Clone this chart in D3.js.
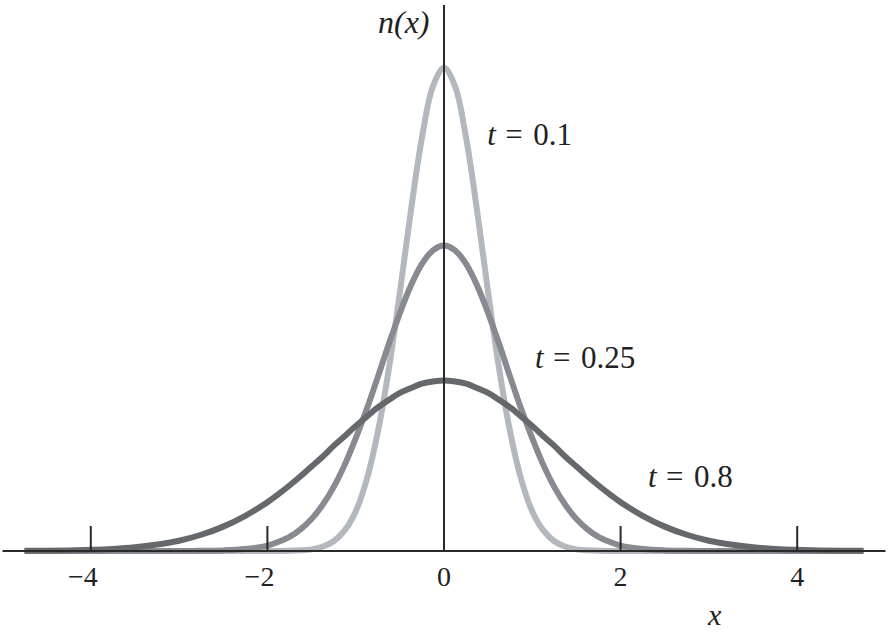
<!DOCTYPE html>
<html>
<head>
<meta charset="utf-8">
<script src="https://cdn.jsdelivr.net/npm/d3@7"></script>
<style>
	body { margin: 0; background: #fff; }
	svg { display: block; }
	svg text { font-family: 'Liberation Serif'; }
</style>
</head>
<body>
<div class="graphic"></div>
<script>
var xs = [-4.75, -4.5, -4.25, -4, -3.75, -3.5, -3.25, -3, -2.75, -2.5, -2.25,
	-2, -1.875, -1.75, -1.625, -1.5, -1.375, -1.25, -1.125, -1, -0.875, -0.75, -0.625, -0.5, -0.375, -0.25, -0.125,
	0, 0.125, 0.25, 0.375, 0.5, 0.625, 0.75, 0.875, 1, 1.125, 1.25, 1.375, 1.5, 1.625, 1.75, 1.875, 2,
	2.25, 2.5, 2.75, 3, 3.25, 3.5, 3.75, 4, 4.25, 4.5, 4.75];

// n(x) values, one series per time
var n01 = [0, 0, 0, 0, 0, 0, 0, 0, 0, 0, 0,
	0, 0.0001, 0.0004, 0.0012, 0.003, 0.0079, 0.018, 0.038, 0.073, 0.132, 0.219, 0.336, 0.477, 0.628, 0.763, 0.858,
	0.892, 0.858, 0.763, 0.628, 0.477, 0.336, 0.219, 0.132, 0.073, 0.038, 0.018, 0.0079, 0.003, 0.0012, 0.0004, 0.0001, 0,
	0, 0, 0, 0, 0, 0, 0, 0, 0, 0, 0];
var n025 = [0, 0, 0, 0, 0, 0, 0, 0.0001, 0.0003, 0.0011, 0.0036,
	0.010, 0.017, 0.026, 0.040, 0.059, 0.085, 0.118, 0.159, 0.208, 0.262, 0.321, 0.382, 0.439, 0.490, 0.530, 0.555,
	0.564, 0.555, 0.530, 0.490, 0.439, 0.382, 0.321, 0.262, 0.208, 0.159, 0.118, 0.085, 0.059, 0.040, 0.026, 0.017, 0.010,
	0.0036, 0.0011, 0.0003, 0.0001, 0, 0, 0, 0, 0, 0, 0];
var n08 = [0.0003, 0.0006, 0.0011, 0.0021, 0.0039, 0.0069, 0.012, 0.019, 0.030, 0.045, 0.065,
	0.090, 0.105, 0.121, 0.138, 0.156, 0.174, 0.194, 0.212, 0.231, 0.248, 0.265, 0.279, 0.292, 0.301, 0.309, 0.313,
	0.315, 0.313, 0.309, 0.301, 0.292, 0.279, 0.265, 0.248, 0.231, 0.212, 0.194, 0.174, 0.156, 0.138, 0.121, 0.105, 0.090,
	0.065, 0.045, 0.030, 0.019, 0.012, 0.0069, 0.0039, 0.0021, 0.0011, 0.0006, 0.0003];

var seriesNames = ['0.1', '0.25', '0.8'];
var seriesValues = [n01, n025, n08];
var seriesColors = ['#b3b7be', '#878b91', '#65686c'];

var tickValues = [-4, -2, 0, 2, 4];
var tickLabels = ['\u22124', '\u22122', '0', '2', '4'];

// label anchors in data units
var labelX = [0.49, 1.03, 2.31];
var labelY = [0.749, 0.338, 0.118];

var width = 891;
var height = 633;
var serif = 'Liberation Serif';

var x = d3.scaleLinear().domain([-5, 5]).range([2.5, 885.5]);
var y = d3.scaleLinear().domain([0, 1.008]).range([551, 5]);

var svg = d3.select('.graphic').append('svg')
	.attr('width', width)
	.attr('height', height)
	.attr('font-family', serif);

var line = d3.line()
	.x(function(d) { return x(d[0]); })
	.y(function(d) { return y(d[1]); })
	.curve(d3.curveCatmullRom.alpha(0.5));

svg.selectAll('path.curve')
	.data(seriesValues)
	.enter()
	.append('path')
	.attr('class', 'curve')
	.attr('d', function(vals) {
		return line(vals.map(function(v, i) { return [xs[i], v]; }));
	})
	.attr('fill', 'none')
	.attr('stroke', function(d, i) { return seriesColors[i]; })
	.attr('stroke-width', 6);

// x axis line + ticks
svg.append('line')
	.attr('x1', x(-5)).attr('x2', x(5))
	.attr('y1', y(0)).attr('y2', y(0))
	.attr('stroke', '#2a2a2a')
	.attr('stroke-width', 2);

svg.selectAll('line.tick')
	.data(tickValues.filter(function(t) { return t !== 0; }))
	.enter()
	.append('line')
	.attr('class', 'tick')
	.attr('x1', function(d) { return x(d); })
	.attr('x2', function(d) { return x(d); })
	.attr('y1', y(0))
	.attr('y2', y(0) - 25)
	.attr('stroke', '#2a2a2a')
	.attr('stroke-width', 2);

svg.selectAll('text.ticklabel')
	.data(tickValues)
	.enter()
	.append('text')
	.attr('class', 'ticklabel')
	.attr('x', function(d) { return x(d) + 7; })
	.attr('y', 586)
	.attr('text-anchor', 'end')
	.attr('font-family', serif)
	.attr('font-size', 28)
	.attr('fill', '#222')
	.text(function(d, i) { return tickLabels[i]; });

// y axis
svg.append('line')
	.attr('x1', x(0)).attr('x2', x(0))
	.attr('y1', y(0)).attr('y2', y(1.008))
	.attr('stroke', '#2a2a2a')
	.attr('stroke-width', 2);

svg.append('text')
	.attr('x', 378)
	.attr('y', 33)
	.attr('font-family', serif)
	.attr('font-size', 32)
	.attr('font-style', 'italic')
	.attr('fill', '#222')
	.text('n(x)');

svg.append('text')
	.attr('x', 708)
	.attr('y', 625)
	.attr('font-family', serif)
	.attr('font-size', 30)
	.attr('font-style', 'italic')
	.attr('fill', '#222')
	.text('x');

// curve labels
var labels = svg.selectAll('text.curvelabel')
	.data(seriesNames)
	.enter()
	.append('text')
	.attr('class', 'curvelabel')
	.attr('font-family', serif)
	.attr('font-size', 31)
	.attr('fill', '#222')
	.attr('transform', function(d, i) {
		return `translate(${x(labelX[i])},${y(labelY[i])})`;
	});

labels.append('tspan').attr('x', 0).attr('font-style', 'italic').text('t');
labels.append('tspan').attr('x', 18).text('=');
labels.append('tspan').attr('x', 46).text(function(d) { return d; });
</script>
</body>
</html>
